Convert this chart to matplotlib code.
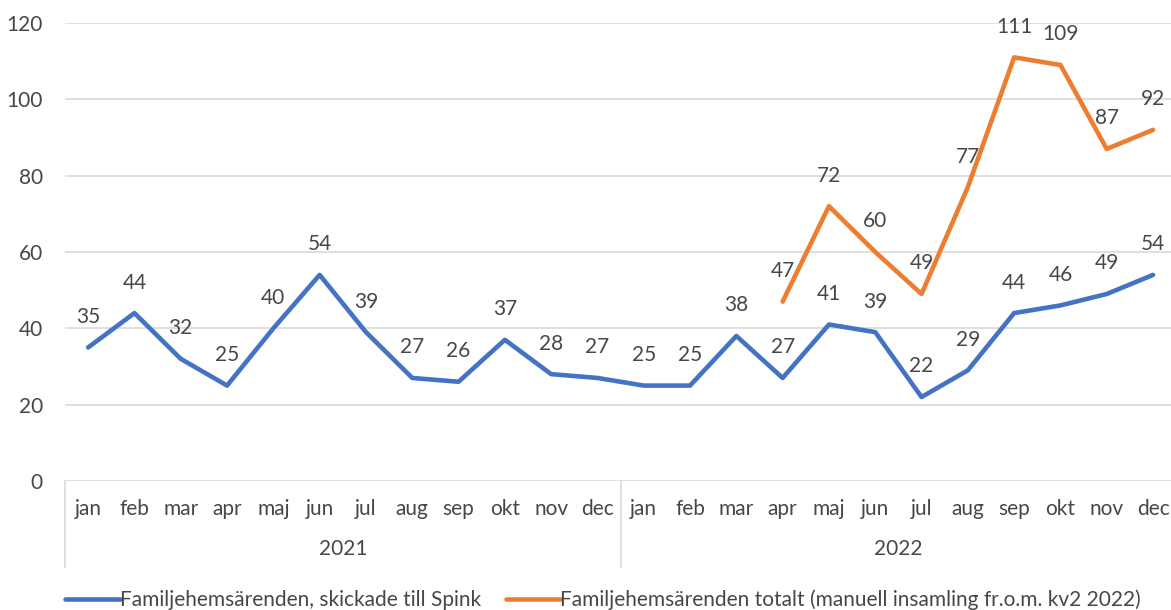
import matplotlib

matplotlib.use("Agg")
import matplotlib.pyplot as plt
import numpy as np

plt.rcParams["font.family"] = ["Lato", "DejaVu Sans"]

TEXT = "#474747"
GRID = "#D9D9D9"
BLUE = "#4472C4"
ORANGE = "#ED7D31"
FS = 15

months = ["jan", "feb", "mar", "apr", "maj", "jun", "jul", "aug", "sep", "okt", "nov", "dec"]
years = ["2021", "2022"]
skickade = [35, 44, 32, 25, 40, 54, 39, 27, 26, 37, 28, 27,
            25, 25, 38, 27, 41, 39, 22, 29, 44, 46, 49, 54]
totalt = [None] * 15 + [47, 72, 60, 49, 77, 111, 109, 87, 92]
y_ticks = [0, 20, 40, 60, 80, 100, 120]

W, H = 1171, 610
fig = plt.figure(figsize=(W / 100, H / 100), dpi=100)
ax = fig.add_axes([65 / W, 129 / H, (W - 65) / W, 458 / H])

x = np.arange(len(skickade))
tot = np.array([np.nan if v is None else v for v in totalt], dtype=float)

ax.plot(x, skickade, color=BLUE, lw=3.3, solid_joinstyle="round", solid_capstyle="round",
        label="Familjehemsärenden, skickade till Spink", zorder=3)
ax.plot(x, tot, color=ORANGE, lw=3.3, solid_joinstyle="round", solid_capstyle="round",
        label="Familjehemsärenden totalt (manuell insamling fr.o.m. kv2 2022)", zorder=3)

for xi, v in zip(x, skickade):
    ax.annotate(str(v), (xi, v), xytext=(0, 22), textcoords="offset points",
                ha="center", va="center", fontsize=FS, color=TEXT)
for xi, v in zip(x, totalt):
    if v is not None:
        ax.annotate(str(v), (xi, v), xytext=(0, 22), textcoords="offset points",
                    ha="center", va="center", fontsize=FS, color=TEXT)

ax.set_ylim(0, 120)
ax.set_xlim(-0.5, -0.5 + (W - 65) / 46.3)
ax.set_yticks(y_ticks)
ax.set_yticklabels([str(t) for t in y_ticks], fontsize=FS, color=TEXT)
ax.tick_params(axis="y", length=0, pad=16)
ax.grid(axis="y", color=GRID, lw=1.2)
ax.set_axisbelow(True)
for s in ax.spines.values():
    s.set_visible(False)

ax.set_xticks(x)
ax.set_xticklabels(months * 2, fontsize=FS, color=TEXT)
ax.tick_params(axis="x", length=0, pad=13)

# year row and category separators below the axis
trans = ax.get_xaxis_transform()
for i, yr in enumerate(years):
    ax.text(i * 12 + 5.5, -68 / 458, yr, transform=trans, ha="center", va="center",
            fontsize=FS, color=TEXT)
for xs in [-0.5, 11.5]:
    ax.plot([xs, xs], [0, -86 / 458], transform=trans, color=GRID, lw=1.2, clip_on=False)

fig.legend(loc="center", bbox_to_anchor=(603 / W, 10 / H), ncol=2, frameon=False,
           fontsize=FS, labelcolor=TEXT, handlelength=2.6, handletextpad=0.0,
           columnspacing=1.2, borderaxespad=0)

fig.savefig("out.png", dpi=100)
